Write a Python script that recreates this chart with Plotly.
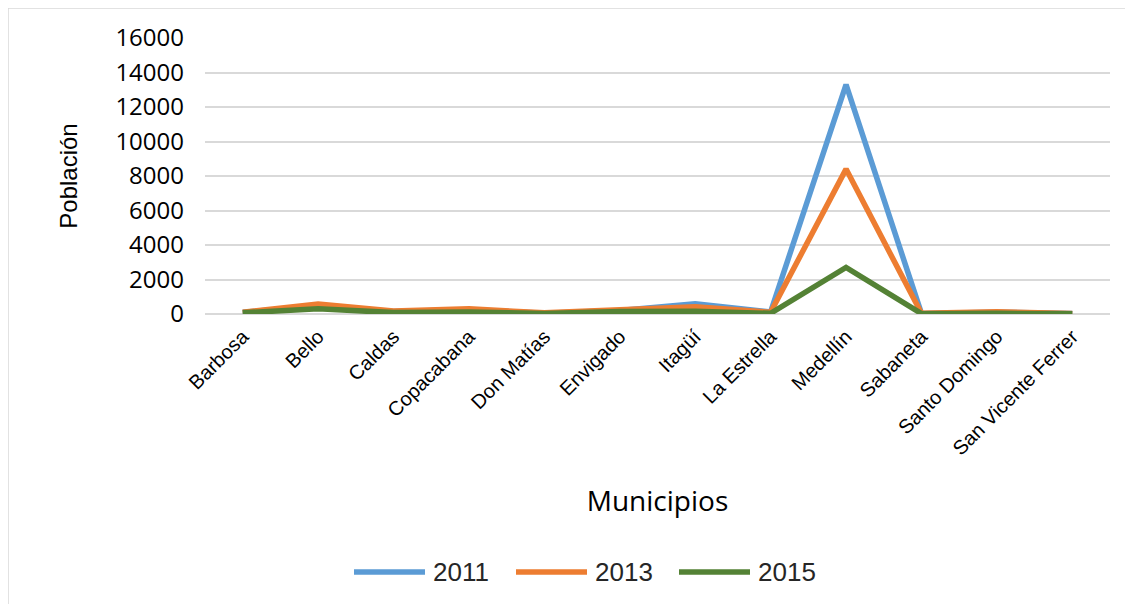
import plotly.graph_objects as go

municipios = ["Barbosa", "Bello", "Caldas", "Copacabana", "Don Matías", "Envigado",
              "Itagüí", "La Estrella", "Medellín", "Sabaneta", "Santo Domingo",
              "San Vicente Ferrer"]
pob_2011 = [100, 450, 150, 250, 50, 200, 600, 120, 13300, 30, 100, 30]
pob_2013 = [100, 580, 180, 300, 70, 280, 420, 100, 8400, 40, 130, 30]
pob_2015 = [70, 300, 80, 120, 30, 150, 160, 40, 2700, 20, 40, 20]
y_ticks = [0, 2000, 4000, 6000, 8000, 10000, 12000, 14000, 16000]
y_tick_labels = [str(v) for v in y_ticks]

series = [("2011", pob_2011, "#5B9BD5"), ("2013", pob_2013, "#ED7D31"), ("2015", pob_2015, "#548235")]

OFF = 8  # page body margin
W, H = 1133 - OFF, 604 - OFF
# plot area in screen pixels
SL, SR, ST, SB = 205, 1110, 38, 314
L, R, T, B = SL - OFF, SR - OFF, ST - OFF, SB - OFF

def px(x):
    return (x - SL) / (SR - SL)

def py(y):
    return (SB - y) / (SB - ST)

fig = go.Figure()
for name, vals, color in series:
    fig.add_trace(go.Scatter(x=municipios, y=vals, name=name, mode="lines",
                             line=dict(color=color, width=5.5), showlegend=False))

legend_items = [(352, 427, 431), (514, 589, 593), (677, 752, 756)]
frame = dict(color="#d9d9d9", width=1.5)
shapes = [
    dict(type="line", xref="paper", yref="paper", x0=px(8), x1=px(1140), y0=py(8), y1=py(8),
         line=frame, layer="below"),
    dict(type="line", xref="paper", yref="paper", x0=px(8), x1=px(8), y0=py(8), y1=py(610),
         line=frame, layer="below"),
]
annotations = []
for (name, vals, color), (lx0, lx1, tx) in zip(series, legend_items):
    shapes.append(dict(type="line", xref="paper", yref="paper",
                       x0=px(lx0 + 2), x1=px(lx1 - 2), y0=py(572), y1=py(572),
                       line=dict(color=color, width=5.5)))
    annotations.append(dict(text=name, xref="paper", yref="paper", x=px(tx), y=py(572),
                            xanchor="left", yanchor="middle", showarrow=False,
                            font=dict(family="Liberation Sans, Arial", size=26, color="#262626")))

fig.update_layout(
    width=W, height=H,
    margin=dict(l=L, r=W - R, t=T, b=H - B),
    paper_bgcolor="white", plot_bgcolor="white",
    showlegend=False,
    xaxis=dict(
        range=[-0.5, len(municipios) - 0.5],
        tickangle=-45, showgrid=False, showline=False, ticks="",
        ticklabelstandoff=6,
        tickfont=dict(family="Liberation Sans, Arial", size=20, color="#000000"),
        title=dict(text="Municipios", standoff=33,
                   font=dict(family="Open Sans", size=28, color="#000000")),
        automargin=False,
    ),
    yaxis=dict(
        range=[0, 16000], tickvals=y_ticks, ticktext=y_tick_labels,
        showgrid=True, gridcolor="#d9d9d9", gridwidth=1.5,
        zeroline=True, zerolinecolor="#d9d9d9", zerolinewidth=1.5, showline=False, ticks="",
        ticklabelstandoff=20,
        tickfont=dict(family="Open Sans", size=24, color="#000000"),
        title=dict(text="Población", standoff=30,
                   font=dict(family="Liberation Sans, Arial", size=24, color="#000000")),
        automargin=False,
    ),
    shapes=shapes,
    annotations=annotations,
)

fig.write_html("out.html")
